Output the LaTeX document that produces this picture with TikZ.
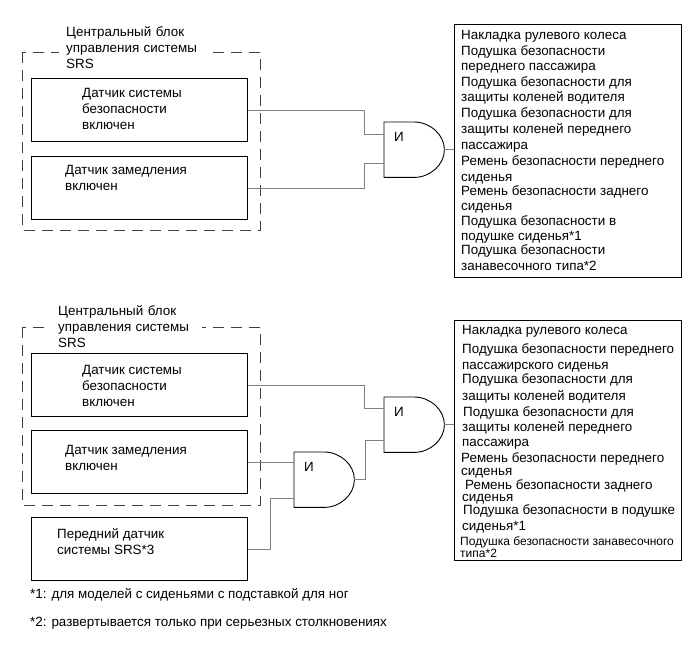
\documentclass[tikz,border=0pt]{standalone}
\usepackage{fontspec}
\setmainfont{Liberation Sans}
\newcommand{\andgate}[5]{
    \node[gatebody] (#1) at (#2,#3) {};
    \draw[gateline] (#1.north west) -- (#1.north) .. controls +(16,0) and +(0,-15) .. (#1.east)
        .. controls +(0,15) and +(16,0) .. (#1.south) -- (#1.south west) -- cycle;
    \coordinate (#1in1) at (#2,#4);
    \coordinate (#1in2) at (#2,#5);
    \node[txt] (#1txt) at (#2+10,#3+10) {И};
}

\begin{document}
\begin{tikzpicture}[
                x=1pt, y=-1pt,
                txt/.style={anchor=north west, align=left, inner sep=0pt, font=\fontsize{13.4}{16}\selectfont},
                item/.style={anchor=base west, inner sep=0pt, font=\fontsize{13.4}{16}\selectfont},
                smallitem/.style={item, font=\fontsize{12}{13}\selectfont},
                title/.style={anchor=north west, align=left, fill=white, inner ysep=0pt, font=\fontsize{13.4}{16}\selectfont},
                sensor/.style={rectangle, draw, line width=0.9pt, anchor=north west, minimum width=216pt, minimum height=63pt, inner sep=0pt},
                group/.style={draw=black!75, dash pattern=on 11pt off 7pt, line width=0.5pt},
                listbox/.style={rectangle, draw, line width=0.9pt, anchor=north west, minimum width=227pt, inner sep=0pt},
                wire/.style={draw, gray, line width=0.9pt},
                gatebody/.style={rectangle, anchor=north west, minimum width=60pt, minimum height=55pt, inner sep=0pt},
                gateline/.style={draw, line width=0.9pt}
            ]
                \useasboundingbox (0,0) rectangle (689,659);

                % upper circuit
                \draw[group] (22,52) rectangle (260,230);
                \node[title, inner xsep=7pt, text width=139pt] (head1) at (59,26) {Центральный блок\\управления системы\\SRS};
                \node[sensor] (box1) at (31,78) {};
                \node[sensor] (box2) at (31,156) {};
                \node[txt] (text1) at (82,88) {Датчик системы\\безопасности\\включен};
                \node[txt] (text2) at (65,165) {Датчик замедления\\включен};
                \andgate{gate1}{384}{122}{134}{163}
                \node[listbox, minimum height=253pt] (list1) at (454,24) {};
                \draw[wire] (box1.east) -| ([xshift=-20pt]gate1in1) -- (gate1in1);
                \draw[wire] (box2.east) -| ([xshift=-20pt]gate1in2) -- (gate1in2);
                \draw[wire] (gate1.east) -- (gate1.east -| list1.west);
                \foreach \y/\line [count=\i] in {
                    39/Накладка рулевого колеса,
                    55/Подушка безопасности,
                    70/переднего пассажира,
                    86/Подушка безопасности для,
                    101/защиты коленей водителя,
                    117/Подушка безопасности для,
                    133/защиты коленей переднего,
                    149/пассажира,
                    165/Ремень безопасности переднего,
                    181/сиденья,
                    195/Ремень безопасности заднего,
                    210/сиденья,
                    225/Подушка безопасности в,
                    240/подушке сиденья*1,
                    254/Подушка безопасности,
                    270/занавесочного типа*2}
                    \node[item] (upper\i) at (461,\y) {\line};

                % lower circuit
                \draw[group] (22,327) rectangle (260,505);
                \node[title, inner xsep=13pt, text width=131pt] (head2) at (45,305) {Центральный блок\\управления системы\\SRS};
                \node[sensor] (box3) at (31,353) {};
                \node[sensor] (box4) at (31,430) {};
                \node[sensor] (box5) at (31,517) {};
                \node[txt] (text3) at (82,365) {Датчик системы\\безопасности\\включен};
                \node[txt] (text4) at (65,445) {Датчик замедления\\включен};
                \node[txt] (text5) at (57,528) {Передний датчик\\системы SRS*3};
                \andgate{gate2}{384}{397}{408}{440}
                \andgate{gate3}{294}{452}{462}{498}
                \node[listbox, minimum height=240pt] (list2) at (454,320) {};
                \draw[wire] (box3.east) -| ([xshift=-20pt]gate2in1) -- (gate2in1);
                \draw[wire] (box4.east) -- (box4.east -| gate3.west);
                \draw[wire] (box5.east) -| ([xshift=-24pt]gate3in2) -- (gate3in2);
                \draw[wire] (gate3.east) -| ([xshift=-19pt]gate2in2) -- (gate2in2);
                \draw[wire] (gate2.east) -- (gate2.east -| list2.west);
                \foreach \y/\x/\line [count=\i] in {
                    334/462/Накладка рулевого колеса,
                    353/462/Подушка безопасности переднего,
                    369/462/пассажирского сиденья,
                    383/462/Подушка безопасности для,
                    400/462/защиты коленей водителя,
                    416/463/Подушка безопасности для,
                    431/462/защиты коленей переднего,
                    446/462/пассажира,
                    462/461/Ремень безопасности переднего,
                    475/461/сиденья,
                    489/465/Ремень безопасности заднего,
                    501/462/сиденья,
                    514/463/Подушка безопасности в подушке,
                    530/462/сиденья*1}
                    \node[item] (lower\i) at (\x,\y) {\line};
                \node[smallitem] (lower15) at (460,545) {Подушка безопасности занавесочного};
                \node[smallitem] (lower16) at (460,557) {типа*2};

                % notes
                \node[txt] (note1) at (30,588) {*1: для моделей с сиденьями с подставкой для ног};
                \node[txt] (note2) at (30,617) {*2: развертывается только при серьезных столкновениях};
            \end{tikzpicture}
\end{document}
